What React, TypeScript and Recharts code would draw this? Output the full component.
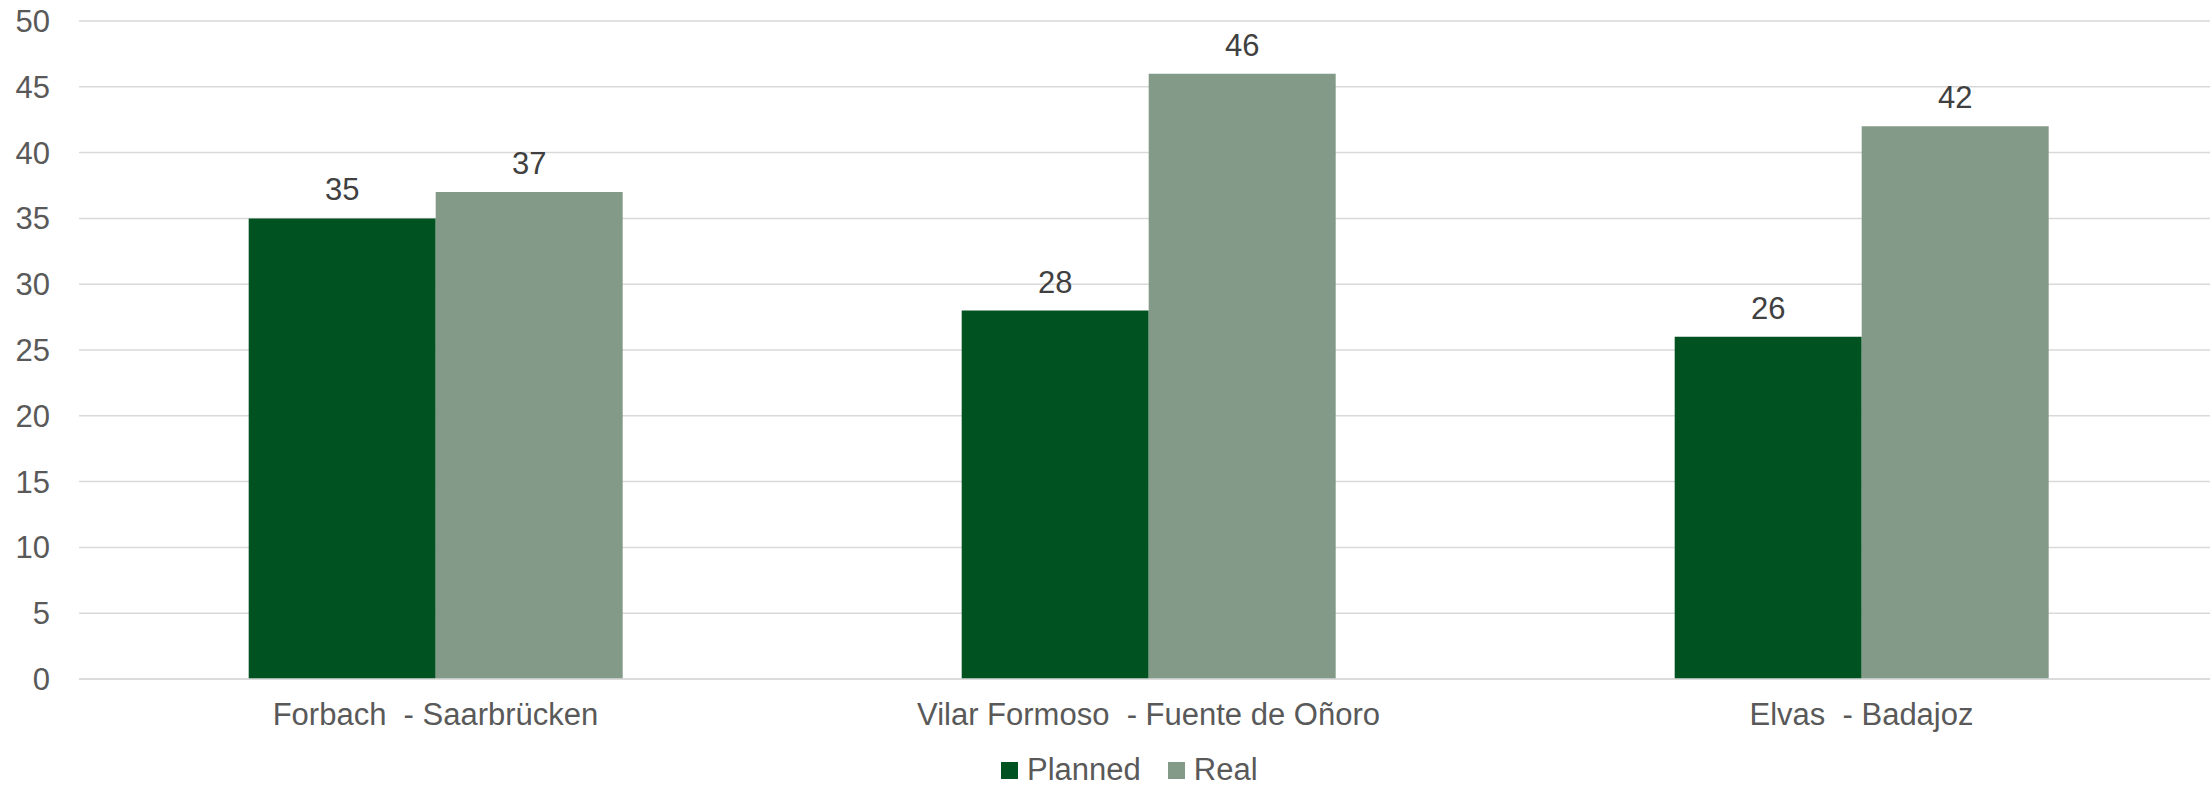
import {
  Bar,
  BarChart,
  CartesianGrid,
  LabelList,
  Legend,
  XAxis,
  YAxis,
} from "recharts";

const categories = [
  "Forbach  - Saarbrücken",
  "Vilar Formoso  - Fuente de Oñoro",
  "Elvas  - Badajoz",
];
const planned = [35, 28, 26];
const real = [37, 46, 42];
const yTicks = [0, 5, 10, 15, 20, 25, 30, 35, 40, 45, 50];

const data = categories.map((name, i) => ({
  name,
  planned: planned[i],
  real: real[i],
}));

const FONT = '"Liberation Sans", Arial, sans-serif';
const DARK = "#005320";
const LIGHT = "#849A89";

function LegendContent({ payload }: any) {
  return (
    <div
      style={{
        display: "flex",
        alignItems: "center",
        fontFamily: FONT,
        fontSize: 31,
        lineHeight: "28px",
        color: "#595959",
        whiteSpace: "nowrap",
      }}
    >
      {(payload || []).map((p: any, i: number) => (
        <div
          key={p.value}
          style={{
            display: "flex",
            alignItems: "center",
            marginLeft: i === 0 ? 0 : 27,
          }}
        >
          <span
            style={{
              display: "inline-block",
              width: 17,
              height: 17,
              background: p.color,
              marginRight: 9,
            }}
          />
          <span>{p.value}</span>
        </div>
      ))}
    </div>
  );
}

export default function App() {
  return (
    <div
      style={{
        position: "absolute",
        left: 0,
        top: 0,
        width: 2210,
        height: 789,
        overflow: "hidden",
        background: "#fff",
      }}
    >
      <BarChart
        width={2218}
        height={789}
        data={data}
        margin={{ top: 21, right: 0, bottom: 0, left: 0 }}
        barGap={0}
        barCategoryGap="23.8%"
      >
        <CartesianGrid vertical={false} stroke="#D9D9D9" strokeWidth={1.5} />
        <XAxis
          dataKey="name"
          height={110}
          axisLine={{ stroke: "#D9D9D9", strokeWidth: 1.5 }}
          tickLine={false}
          tickSize={0}
          tickMargin={24}
          tick={{ fontSize: 31, fill: "#595959", fontFamily: FONT }}
          tickFormatter={(v: string) => v.replace(/  /g, "\u00A0 ")}
        />
        <YAxis
          width={79}
          domain={[0, 50]}
          ticks={yTicks}
          axisLine={false}
          tickLine={false}
          tickSize={0}
          tickMargin={29}
          tick={{ fontSize: 31, fill: "#595959", fontFamily: FONT }}
        />
        <Legend
          layout="horizontal"
          verticalAlign="middle"
          align="center"
          wrapperStyle={{ top: 756, left: 1001, width: 320 }}
          content={<LegendContent />}
        />
        <Bar dataKey="planned" name="Planned" fill={DARK} isAnimationActive={false}>
          <LabelList
            dataKey="planned"
            position="top"
            offset={18}
            fill="#404040"
            fontSize={31}
            fontFamily={FONT}
          />
        </Bar>
        <Bar dataKey="real" name="Real" fill={LIGHT} isAnimationActive={false}>
          <LabelList
            dataKey="real"
            position="top"
            offset={18}
            fill="#404040"
            fontSize={31}
            fontFamily={FONT}
          />
        </Bar>
      </BarChart>
    </div>
  );
}
